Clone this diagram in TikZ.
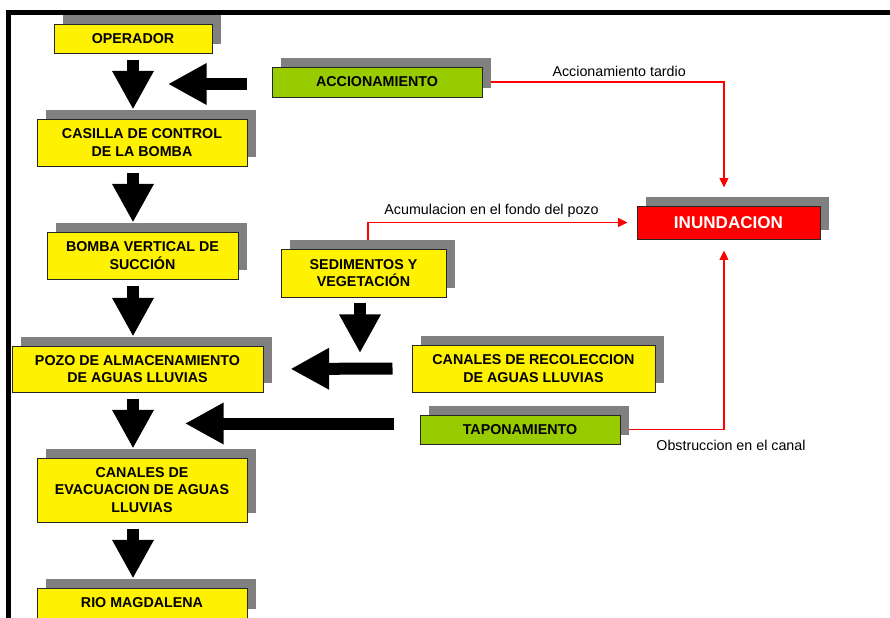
\documentclass[tikz,border=0pt]{standalone}
\usepackage{fontspec}
\setmainfont{Liberation Sans}
\usetikzlibrary{arrows.meta,
                backgrounds,
                shadows
            }
\definecolor{verdeclaro}{HTML}{99CC00}

\begin{document}
\begin{tikzpicture}[x=0.75pt, y=-0.75pt,
        caja/.style={draw=black!85, line width=0.75pt, align=center, inner sep=0pt,
            font=\fontsize{10.7}{12.9}\selectfont\bfseries,
            drop shadow={shadow xshift=6.4pt, shadow yshift=6.4pt, fill=gray, opacity=1}},
        amarilla/.style={caja, fill=yellow},
        verde/.style={caja, fill=verdeclaro},
        flecha/.style={line width=9pt, -{Triangle[width=29.25pt, length=29pt]}},
        flechabaja/.style={flecha, shorten <=4.5pt, shorten >=6.75pt},
        roja/.style={draw=red, line width=1.1pt, -{Triangle[width=6.5pt, length=7pt]}},
        etiqueta/.style={font=\fontsize{10.7}{12.9}\selectfont}
    ]
            \useasboundingbox (0,0) rectangle (890,618);
            \draw[line width=3.75pt] (8.5,618) -- (8.5,12.5) -- (890,12.5);

            % cadena principal
            \node[amarilla, minimum width=118.5pt, minimum height=21.75pt] (oper) at (133,38.5) {OPERADOR};
            \node[amarilla, minimum width=157.5pt, minimum height=35.25pt] (casilla) at (142,142.5) {CASILLA DE CONTROL\\DE LA BOMBA};
            \node[amarilla, minimum width=143.25pt, minimum height=35.25pt] (bomba) at (142.5,255.5) {BOMBA VERTICAL DE\\SUCCIÓN};
            \node[amarilla, minimum width=188.25pt, minimum height=34.5pt] (pozo) at (137.5,369) {POZO DE ALMACENAMIENTO\\DE AGUAS LLUVIAS};
            \node[amarilla, minimum width=157.5pt, minimum height=48pt] (canevac) at (142,490) {CANALES DE\\EVACUACION DE AGUAS\\LLUVIAS};
            \node[amarilla, minimum width=157.5pt, minimum height=22.5pt] (rio) at (142,603) {RIO MAGDALENA};

            % entradas
            \node[verde, minimum width=157.5pt, minimum height=22.5pt] (accion) at (377,82) {ACCIONAMIENTO};
            \node[amarilla, minimum width=123.75pt, minimum height=36pt] (sedim) at (363.5,273) {SEDIMENTOS Y\\VEGETACIÓN};
            \node[amarilla, minimum width=182.25pt, minimum height=35.25pt] (canrec) at (533.5,368.5) {CANALES DE RECOLECCION\\DE AGUAS LLUVIAS};
            \node[verde, minimum width=150pt, minimum height=21.75pt] (tapon) at (520,429.5) {TAPONAMIENTO};
            \node[caja, fill=red, text=white, font=\fontsize{12.8}{15}\selectfont\bfseries,
                  minimum width=137.25pt, minimum height=24.75pt] (inund) at (728.5,222.5) {INUNDACION};

            \coordinate (puntaA) at (168,84);
            \coordinate (puntaS) at (360,353);
            \coordinate (puntaT) at (185,423.5);

            \draw[flechabaja] (oper.south) -- (oper.south |- casilla.north);
            \draw[flechabaja] (oper.south |- casilla.south) -- (oper.south |- bomba.north);
            \draw[flechabaja] (oper.south |- bomba.south) -- (oper.south |- pozo.north);
            \draw[flechabaja] (oper.south |- pozo.south) -- (oper.south |- canevac.north);
            \draw[flechabaja] (oper.south |- canevac.south) -- (oper.south |- rio.north);

            \draw[flecha, shorten <=18.75pt] (puntaA -| accion.west) -- (puntaA);
            \draw[flecha, shorten <=3.75pt] (puntaS |- sedim.south) -- (puntaS);
            \draw[flecha, shorten <=14.25pt, shorten >=20.25pt] (canrec.west) -- (pozo.east);
            \draw[flecha, shorten <=19.5pt] (puntaT -| tapon.west) -- (puntaT);

            \begin{scope}[on background layer]
            \draw[roja, shorten >=13.5pt] (accion.east) -| ([xshift=-3.4pt]inund.north)
                node[etiqueta, pos=0.283, above] {Accionamiento tardio};
            \draw[roja, shorten >=6.75pt] ([xshift=3.4pt]sedim.north) |- (inund.west)
                node[etiqueta, pos=0.73, above] {Acumulacion en el fondo del pozo};
            \draw[roja, shorten >=8.25pt] (tapon.east) -| ([xshift=-3.4pt]inund.south)
                node[etiqueta, pos=0.5, below, xshift=5.25pt, yshift=-4pt] {Obstruccion en el canal};
            \end{scope}
        \end{tikzpicture}
\end{document}
